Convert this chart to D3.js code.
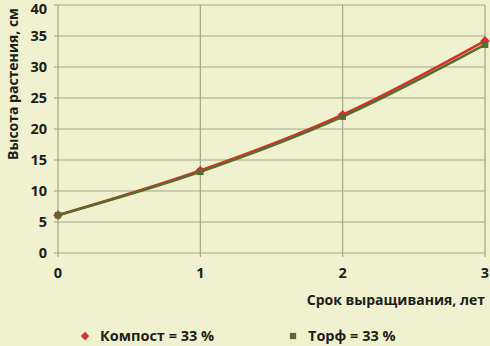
<!DOCTYPE html>
<html>
<head>
<meta charset="utf-8">
<script src="https://cdn.jsdelivr.net/npm/d3@7"></script>
<style>
  body { margin: 0; background: #f0f2cf; }
  svg { display: block; font-family: "Open Sans", "Noto Sans", sans-serif; font-weight: bold; }
</style>
</head>
<body>
<div id="chart"></div>
<script>
// chart data
const years = [0, 1, 2, 3];
const compost = [6.1, 13.3, 22.3, 34.2];
const peat = [6.1, 13.1, 22.0, 33.6];
const yTicks = [0, 5, 10, 15, 20, 25, 30, 35, 40];
const seriesNames = ["Компост = 33 %", "Торф = 33 %"];

const W = 490, H = 346;
const margin = { top: 5, right: 5, bottom: 93, left: 58 };
const width = W - margin.left - margin.right;
const height = H - margin.top - margin.bottom;

const svg = d3.select("#chart").append("svg")
  .attr("width", W).attr("height", H);

svg.append("rect").attr("width", W).attr("height", H).attr("fill", "#f0f2cf");

const g = svg.append("g").attr("transform", `translate(${margin.left},${margin.top})`);

const x = d3.scaleLinear().domain([0, 3]).range([0, width]);
const y = d3.scaleLinear().domain([0, 40]).range([height, 0]);

// grid lines
g.append("g").selectAll("line").data(yTicks).enter().append("line")
  .attr("x1", 0).attr("x2", width)
  .attr("y1", d => y(d)).attr("y2", d => y(d))
  .attr("stroke", "#a3a58e").attr("stroke-width", 1.2);
g.append("g").selectAll("line").data(years).enter().append("line")
  .attr("x1", d => x(d)).attr("x2", d => x(d))
  .attr("y1", 0).attr("y2", height + 4)
  .attr("stroke", "#a3a58e").attr("stroke-width", 1.2);
// small y tick marks
g.append("g").selectAll("line").data(yTicks).enter().append("line")
  .attr("x1", -4).attr("x2", 0)
  .attr("y1", d => y(d)).attr("y2", d => y(d))
  .attr("stroke", "#a3a58e").attr("stroke-width", 1.2);

// tick labels (top one nudged down so it is not clipped)
g.append("g").selectAll("text").data(yTicks).enter().append("text")
  .attr("x", -11).attr("y", d => Math.max(y(d), 4)).attr("dy", "0.36em")
  .attr("text-anchor", "end").attr("font-size", 14.5).attr("fill", "#1e1e1a")
  .text(d => d);
g.append("g").selectAll("text").data(years).enter().append("text")
  .attr("x", d => x(d)).attr("y", height + 25)
  .attr("text-anchor", "middle").attr("font-size", 14.5).attr("fill", "#1e1e1a")
  .text(d => d);

// axis titles
svg.append("text")
  .attr("transform", `translate(13,84) rotate(-90)`)
  .attr("dy", "0.35em").attr("text-anchor", "middle")
  .attr("font-size", 14).attr("fill", "#1e1e1a")
  .text("Высота растения, см");
svg.append("text")
  .attr("x", W - 5).attr("y", 305)
  .attr("text-anchor", "end").attr("font-size", 14).attr("fill", "#1e1e1a")
  .text("Срок выращивания, лет");

const line = d3.line()
  .x((d, i) => x(years[i]))
  .y(d => y(d))
  .curve(d3.curveCatmullRom.alpha(0.5));

const series = [
  { name: seriesNames[0], values: compost, color: "#d8302c", marker: "diamond" },
  { name: seriesNames[1], values: peat, color: "#5b6b2e", marker: "square" }
];

const sym = m => d3.symbol().type(m === "diamond" ? d3.symbolDiamond2 : d3.symbolSquare2);

series.forEach(s => {
  g.append("path").datum(s.values)
    .attr("d", line).attr("fill", "none")
    .attr("stroke", s.color).attr("stroke-width", 2.6);
});
series.forEach(s => {
  g.append("g").selectAll("path").data(s.values).enter().append("path")
    .attr("transform", (d, i) => `translate(${x(years[i])},${y(d)})`)
    .attr("d", sym(s.marker).size(s.marker === "diamond" ? 60 : 55)())
    .attr("fill", s.color);
});

// legend
const legendX = [85, 293];
series.forEach((s, i) => {
  svg.append("path")
    .attr("transform", `translate(${legendX[i]},336)`)
    .attr("d", sym(s.marker).size(s.marker === "diamond" ? 45 : 50)())
    .attr("fill", s.color);
  svg.append("text")
    .attr("x", legendX[i] + 15).attr("y", 336).attr("dy", "0.35em")
    .attr("font-size", 14.5).attr("fill", "#1e1e1a")
    .text(s.name);
});
</script>
</body>
</html>
